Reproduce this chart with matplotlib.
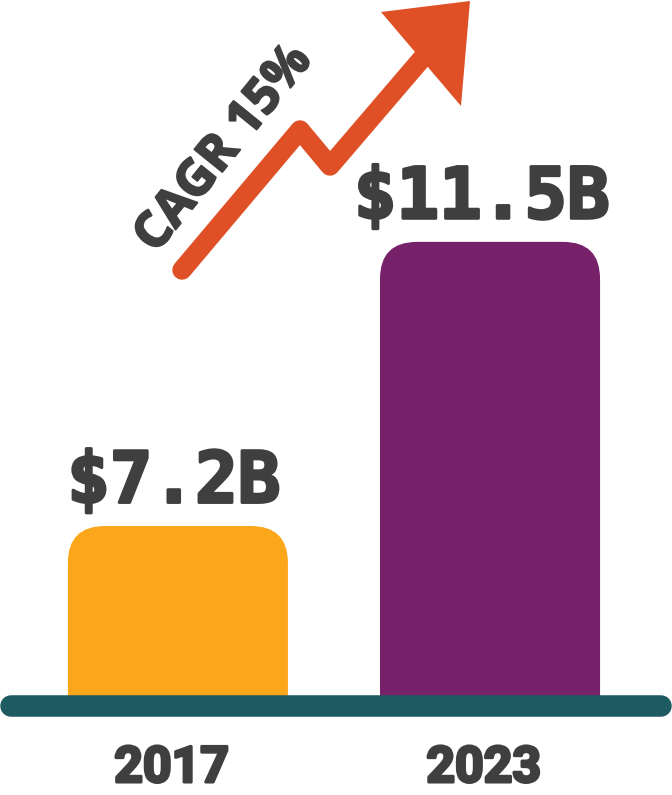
import numpy as np
import matplotlib
matplotlib.use("Agg")
import matplotlib.pyplot as plt
import matplotlib.patheffects as pe
from matplotlib.patches import FancyBboxPatch, Rectangle, Polygon
from matplotlib.lines import Line2D

# data
years = ["2017", "2023"]
values = [7.2, 11.5]
value_labels = ["$7.2B", "$11.5B"]
cagr_label = "CAGR 15%"

bar_colors = ["#FCA61B", "#77216A"]
text_color = "#3F3F3F"
base_color = "#1D5A62"
arrow_color = "#DF5026"

W, H = 672, 795
fig = plt.figure(figsize=(W / 100, H / 100), dpi=100)
ax = fig.add_axes([0, 0, 1, 1])
ax.axis("off")

# truncated value axis, bars sit on the floor line
floor = 4.48
ax.set_xlim(-0.57, 1.583)
ax.set_ylim(3.13, 15.16)

x = np.arange(len(years))
bar_w = 0.705
bars = ax.bar(x, values, width=bar_w, color=bar_colors)

# swap plain bars for ones with rounded tops
x0, x1 = ax.get_xlim()
y0, y1 = ax.get_ylim()
px_x = W / (x1 - x0)
px_y = H / (y1 - y0)
r_px = 37
r_x = r_px / px_x
r_y = r_px / px_y
clip = Rectangle((x0, floor), x1 - x0, y1 - floor, transform=ax.transData)
for rect, c in zip(bars, bar_colors):
    bx, bw, bh = rect.get_x(), rect.get_width(), rect.get_height()
    rect.remove()
    p = FancyBboxPatch((bx, floor - r_y), bw, bh - floor + r_y,
                       boxstyle=f"round,pad=0,rounding_size={r_x}",
                       mutation_aspect=r_y / r_x, fc=c, ec="none", zorder=2)
    ax.add_patch(p)
    p.set_clip_path(clip)

# base line
ax.add_line(Line2D([11 / W, 1 - 11 / W], [floor, floor], color=base_color,
                   lw=15.5, solid_capstyle="round", zorder=3,
                   transform=ax.get_yaxis_transform()))

heavy = [pe.withStroke(linewidth=2.2, foreground=text_color)]

# value labels
for xi, v, lab in zip(x, values, value_labels):
    ax.annotate(lab, xy=(xi, v), xytext=(-3 * len(lab) + 12, 17),
                textcoords="offset points",
                ha="center", va="baseline", fontsize=51, fontweight="bold",
                family="DejaVu Sans Mono", color=text_color, path_effects=heavy)

# year labels
for xi, yr in zip(x, years):
    ax.text(xi - 0.02, 13 / H, yr, transform=ax.get_xaxis_transform(), ha="center",
            va="baseline", fontsize=36, fontweight="bold",
            family="Roboto", color=text_color, path_effects=heavy)

# growth arrow (pixel positions, top-left origin)
def to_ax(pts):
    return [(px / W, 1 - py / H) for px, py in pts]

shaft = to_ax([(182, 270), (300, 130), (330, 166), (425, 55)])
sx, sy = zip(*shaft)
ax.add_line(Line2D(sx, sy, color=arrow_color, lw=14, solid_capstyle="round",
                   solid_joinstyle="round", transform=ax.transAxes, zorder=4))
head = to_ax([(470, 1), (381, 12), (461, 106)])
ax.add_patch(Polygon(head, closed=True, fc=arrow_color, ec="none",
                     transform=ax.transAxes, zorder=4))

ax.text(224 / W, 1 - 149 / H, cagr_label, transform=ax.transAxes,
        rotation=51, rotation_mode="anchor", ha="center", va="center",
        fontsize=36, fontweight="bold", family="Open Sans", color=text_color,
        path_effects=[pe.withStroke(linewidth=1.5, foreground=text_color)])

fig.savefig("out.png", dpi=100, facecolor="white")
